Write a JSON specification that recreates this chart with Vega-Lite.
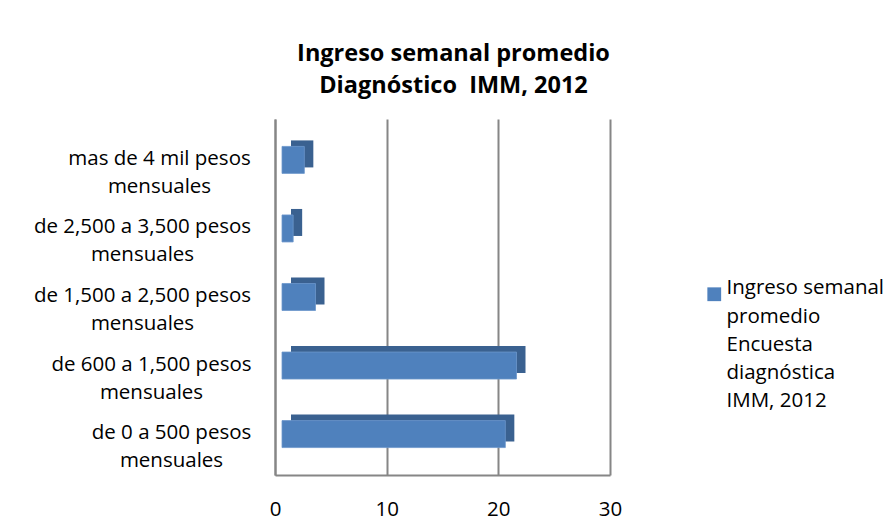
{
  "$schema": "https://vega.github.io/schema/vega-lite/v6.json",
  "width": 335,
  "height": 356,
  "autosize": {"type": "none"},
  "padding": {"left": 275, "top": 119, "right": 280, "bottom": 52},
  "background": "white",
  "title": {
    "text": ["Ingreso semanal promedio", "Diagnóstico\u00a0 IMM, 2012"],
    "font": "Open Sans",
    "fontSize": 23.5,
    "fontWeight": "bold",
    "lineHeight": 31.5,
    "color": "black",
    "anchor": "middle",
    "dx": 11,
    "offset": 22
  },
  "data": {
    "values": [
      {"cat": "mas de 4 mil pesos mensuales", "valor": 2, "serie": "Ingreso semanal promedio Encuesta diagnóstica IMM, 2012"},
      {"cat": "de 2,500 a 3,500 pesos mensuales", "valor": 1, "serie": "Ingreso semanal promedio Encuesta diagnóstica IMM, 2012"},
      {"cat": "de 1,500 a 2,500 pesos mensuales", "valor": 3, "serie": "Ingreso semanal promedio Encuesta diagnóstica IMM, 2012"},
      {"cat": "de 600 a 1,500 pesos mensuales", "valor": 21, "serie": "Ingreso semanal promedio Encuesta diagnóstica IMM, 2012"},
      {"cat": "de 0 a 500 pesos mensuales", "valor": 20, "serie": "Ingreso semanal promedio Encuesta diagnóstica IMM, 2012"}
    ]
  },
  "encoding": {
    "y": {
      "field": "cat",
      "type": "nominal",
      "sort": null,
      "scale": {"paddingInner": 0.606, "paddingOuter": 0.4},
      "axis": {
        "title": null,
        "labelExpr": "[replace(datum.label, ' mensuales', ''), 'mensuales']",
        "labelAlign": "center",
        "labelBaseline": "middle",
        "labelLineHeight": 28,
        "labelOffset": -1,
        "labelPadding": {
          "condition": [
            {"test": "datum.value === 'de 0 a 500 pesos mensuales'", "value": 104},
            {"test": "datum.value === 'de 600 a 1,500 pesos mensuales'", "value": 124},
            {"test": "datum.value === 'mas de 4 mil pesos mensuales'", "value": 116}
          ],
          "value": 133
        },
        "ticks": false,
        "tickSize": 0,
        "labelLimit": 400,
        "labelFont": "Open Sans",
        "labelFontSize": 20.5,
        "labelColor": "black",
        "domainColor": "#868686",
        "domainWidth": 2,
        "grid": false
      }
    },
    "x": {
      "field": "valor",
      "type": "quantitative",
      "scale": {"domain": [0, 30], "nice": false},
      "axis": {
        "title": null,
        "values": [0, 10, 20, 30],
        "domainColor": "#868686",
        "domainWidth": 2,
        "grid": true,
        "gridColor": "#868686",
        "gridWidth": 2,
        "ticks": false,
        "tickSize": 0,
        "labelPadding": 24,
        "labelFlush": false,
        "labelFont": "Open Sans",
        "labelFontSize": 20.5,
        "labelColor": "black"
      }
    }
  },
  "layer": [
    {
      "mark": {"type": "bar", "color": "#3A6190", "xOffset": 16, "x2Offset": 16, "yOffset": -6, "y2Offset": -6}
    },
    {
      "mark": {"type": "bar", "stroke": "#6C97CC", "strokeWidth": 0.8, "xOffset": 7, "x2Offset": 7},
      "encoding": {
        "color": {
          "field": "serie",
          "type": "nominal",
          "scale": {"range": ["#4F81BD"]},
          "legend": {
            "title": null,
            "orient": "none",
            "legendX": 429,
            "legendY": 165,
            "symbolType": "square",
            "symbolSize": 190,
            "symbolStrokeWidth": 0,
            "labelExpr": "['Ingreso semanal', 'promedio', 'Encuesta', 'diagnóstica', 'IMM, 2012']",
            "labelFont": "Open Sans",
            "labelFontSize": 20.5,
            "labelBaseline": "alphabetic",
            "labelLimit": 400,
            "labelColor": "black",
            "labelOffset": 2
          }
        }
      }
    }
  ],
  "config": {
    "view": {"stroke": null},
    "style": {"guide-label": {"lineHeight": 28.3}}
  }
}
